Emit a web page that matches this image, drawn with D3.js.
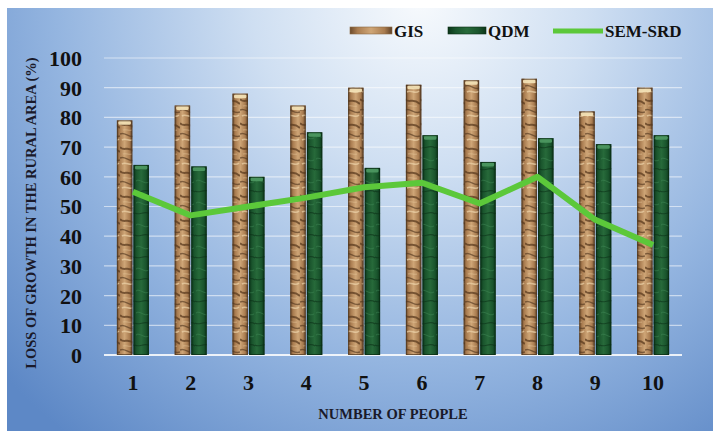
<!DOCTYPE html>
<html><head><meta charset="utf-8">
<script src="https://cdn.jsdelivr.net/npm/d3@7"></script>
<style>html,body{margin:0;padding:0;background:#fff;}svg{display:block;}</style>
</head><body><svg id="c" width="718" height="436"></svg>
<script>
const categories = ["1","2","3","4","5","6","7","8","9","10"];
const gisValues = [79, 84, 88, 84, 90, 91, 92.5, 93, 82, 90];
const qdmValues = [64, 63.5, 60, 75, 63, 74, 65, 73, 71, 74];
const semValues = [55, 47, 50, 53, 56.5, 58, 51, 60, 45.5, 37];
const yTicks = [0,10,20,30,40,50,60,70,80,90,100];
const seriesNames = ["GIS","QDM"];

const svg = d3.select("#c");
const defs = svg.append("defs");

const bg = defs.append("radialGradient").attr("id","bg").attr("gradientUnits","userSpaceOnUse")
  .attr("cx",420).attr("cy",0).attr("r",560).attr("fx",420).attr("fy",0);
bg.append("stop").attr("offset",0).attr("stop-color","#f7fafd");
bg.append("stop").attr("offset",0.3).attr("stop-color","#cfdff2");
bg.append("stop").attr("offset",0.65).attr("stop-color","#94b5e0");
bg.append("stop").attr("offset",1).attr("stop-color","#5d88c6");

const gg = defs.append("linearGradient").attr("id","gisG").attr("x1",0).attr("x2",1).attr("y1",0).attr("y2",0);
[[0,"#6b4a2c"],[0.18,"#a97c50"],[0.5,"#cfa677"],[0.82,"#a97c50"],[1,"#5e4127"]].forEach(s=>gg.append("stop").attr("offset",s[0]).attr("stop-color",s[1]));
const qg = defs.append("linearGradient").attr("id","qdmG").attr("x1",0).attr("x2",1).attr("y1",0).attr("y2",0);
[[0,"#0b3519"],[0.2,"#1a552d"],[0.5,"#276a3a"],[0.8,"#1a552d"],[1,"#0b3519"]].forEach(s=>qg.append("stop").attr("offset",s[0]).attr("stop-color",s[1]));

const gp = defs.append("pattern").attr("id","gisP").attr("patternUnits","userSpaceOnUse").attr("width",15).attr("height",24);
gp.append("path").attr("d","M0,3 C4,8 8,1 15,8").attr("stroke","#5a3b1f").attr("stroke-width",2).attr("fill","none").attr("opacity",0.75);
gp.append("path").attr("d","M0,14 C5,11 9,19 15,16").attr("stroke","#4d321b").attr("stroke-width",1.5).attr("fill","none").attr("opacity",0.6);
gp.append("path").attr("d","M2,20 C6,17 10,23 14,19").attr("stroke","#f0d8ae").attr("stroke-width",1.6).attr("fill","none").attr("opacity",0.65);
gp.append("path").attr("d","M3,10 C6,9 9,11 12,10").attr("stroke","#e6c89a").attr("stroke-width",1.2).attr("fill","none").attr("opacity",0.5);
const qp = defs.append("pattern").attr("id","qdmP").attr("patternUnits","userSpaceOnUse").attr("width",15).attr("height",22);
qp.append("path").attr("d","M1,5 C5,2 9,9 14,6").attr("stroke","#3f8a55").attr("stroke-width",1).attr("fill","none").attr("opacity",0.5);
qp.append("path").attr("d","M0,15 C4,18 10,12 15,16").attr("stroke","#0a2e15").attr("stroke-width",1.2).attr("fill","none").attr("opacity",0.6);

svg.append("rect").attr("x",7).attr("y",8).attr("width",706).attr("height",423).attr("fill","url(#bg)");

const x = d3.scaleBand().domain(categories).range([104,682]).padding(0);
const xs = d3.scaleBand().domain(seriesNames).range([-16,16]).paddingInner(0.07);
const y = d3.scaleLinear().domain([0,100]).range([355,58]);
const serif = "'Liberation Serif','Times New Roman',serif";

svg.append("g").selectAll("line").data(yTicks).join("line")
  .attr("x1",104).attr("x2",682).attr("y1",d=>y(d)).attr("y2",d=>y(d))
  .attr("stroke","#ffffff").attr("stroke-width",d=>d===0?2:1.2).attr("opacity",d=>d===0?0.85:0.55);

const yAxis = svg.append("g").attr("transform","translate(82,0)")
  .call(d3.axisLeft(y).tickValues(yTicks).tickSize(0).tickPadding(0));
yAxis.select(".domain").remove();
yAxis.selectAll("text").attr("font-family",serif)
  .attr("font-weight","bold").attr("font-size",22).attr("fill","#111").attr("dy","0.34em");

const xAxis = svg.append("g").attr("transform","translate(0,374)")
  .call(d3.axisBottom(x).tickSize(0).tickPadding(0));
xAxis.select(".domain").remove();
xAxis.selectAll("text").attr("font-family",serif)
  .attr("font-weight","bold").attr("font-size",22).attr("fill","#111").attr("dy","0.71em");

const data = categories.map((c,i)=>({c, GIS:gisValues[i], QDM:qdmValues[i]}));
const fills = {GIS:["url(#gisG)","url(#gisP)","#f4e3b8"], QDM:["url(#qdmG)","url(#qdmP)","#4f9a63"]};
const bars = svg.append("g");
seriesNames.forEach(s=>{
  const g = bars.append("g");
  const bx = d=>x(d.c)+x.bandwidth()/2+xs(s);
  g.selectAll("rect.b").data(data).join("rect").attr("class","b")
    .attr("x",bx).attr("width",xs.bandwidth())
    .attr("y",d=>y(d[s])).attr("height",d=>y(0)-y(d[s])).attr("fill",fills[s][0]);
  g.selectAll("rect.t").data(data).join("rect").attr("class","t")
    .attr("x",bx).attr("width",xs.bandwidth())
    .attr("y",d=>y(d[s])).attr("height",d=>y(0)-y(d[s])).attr("fill",fills[s][1]);
  g.selectAll("rect.cap").data(data).join("rect").attr("class","cap")
    .attr("x",d=>bx(d)+1.5).attr("width",xs.bandwidth()-3)
    .attr("y",d=>y(d[s])+0.5).attr("height",4).attr("rx",1.5).attr("fill",fills[s][2]).attr("opacity",0.9);
  g.selectAll("rect.o").data(data).join("rect").attr("class","o")
    .attr("x",d=>bx(d)+0.5).attr("width",xs.bandwidth()-1)
    .attr("y",d=>y(d[s])+0.5).attr("height",d=>y(0)-y(d[s])-1)
    .attr("fill","none").attr("stroke",s==="GIS"?"#4e3620":"#082a12").attr("stroke-width",1).attr("opacity",0.7);
});

const line = d3.line().x((d,i)=>x(categories[i])+x.bandwidth()/2).y(d=>y(d));
svg.append("path").datum(semValues).attr("d",line).attr("fill","none")
  .attr("stroke","#5cc83a").attr("stroke-width",6).attr("stroke-linejoin","round").attr("stroke-linecap","butt");

svg.append("text").attr("transform","translate(36,213) rotate(-90)").attr("text-anchor","middle")
  .attr("font-family",serif).attr("font-weight","bold").attr("font-size",14.5).attr("fill","#1a1a2a")
  .text("LOSS OF GROWTH IN THE RURAL AREA (%)");
svg.append("text").attr("x",393).attr("y",419).attr("text-anchor","middle")
  .attr("font-family",serif).attr("font-weight","bold").attr("font-size",14.5).attr("fill","#1a1a2a")
  .text("NUMBER OF PEOPLE");

const leg = svg.append("g");
const legItems = [
  {name:"GIS", type:"bar", x:350, w:42, fill:"url(#gisG)"},
  {name:"QDM", type:"bar", x:448, w:38, fill:"url(#qdmG)"},
  {name:"SEM-SRD", type:"line", x:553, w:50}
];
legItems.forEach(it=>{
  if(it.type==="bar"){
    leg.append("rect").attr("x",it.x).attr("y",27).attr("width",it.w).attr("height",7)
      .attr("fill",it.fill).attr("stroke",it.name==="GIS"?"#8a6a44":"#0a2e15").attr("stroke-width",0.6);
  } else {
    leg.append("line").attr("x1",it.x).attr("x2",it.x+it.w).attr("y1",31).attr("y2",31)
      .attr("stroke","#5cc83a").attr("stroke-width",5);
  }
  leg.append("text").attr("x",it.x+it.w+2).attr("y",31).attr("dy","0.35em")
    .attr("font-family",serif).attr("font-weight","bold").attr("font-size",17).attr("fill","#111")
    .text(it.name);
});
</script></body></html>
